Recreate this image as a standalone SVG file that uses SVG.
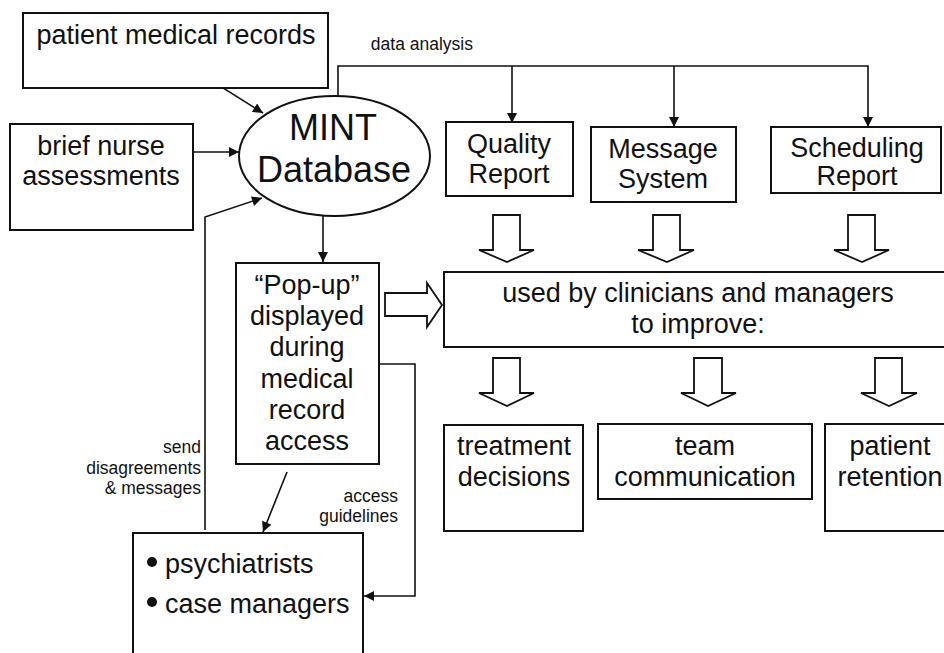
<svg xmlns="http://www.w3.org/2000/svg" width="944" height="653" viewBox="0 0 944 653">
<defs>
<marker id="ah" viewBox="0 0 10 10" refX="10" refY="5" markerWidth="11" markerHeight="10" markerUnits="userSpaceOnUse" orient="auto">
<path d="M0,0 L10,5 L0,10 z" fill="#111"/>
</marker>
<style>
.box{fill:#fff;stroke:#111;stroke-width:2}
.blk{fill:#fff;stroke:#111;stroke-width:1.8;stroke-linejoin:miter}
.con{fill:none;stroke:#111;stroke-width:1.6}
text{font-family:"Liberation Sans",Arial,Helvetica,sans-serif;fill:#111}
.t27{font-size:27px;text-anchor:middle}
.t36{font-size:36px;text-anchor:middle}
.sm{font-size:17.5px;text-anchor:end}
</style>
</defs>
<rect width="944" height="653" fill="#fff"/>

<g id="connectors">
<path class="con" d="M180,61 L263,113" marker-end="url(#ah)"/>
<path class="con" d="M188,152 H239" marker-end="url(#ah)"/>
<path class="con" d="M205,530 V217 L262,198" marker-end="url(#ah)"/>
<path class="con" d="M338,97 V66 H868 V127" marker-end="url(#ah)"/>
<path class="con" d="M512,66 V123" marker-end="url(#ah)"/>
<path class="con" d="M674,66 V127" marker-end="url(#ah)"/>
<path class="con" d="M323,216 V262" marker-end="url(#ah)"/>
<path class="con" d="M287,472 L263,532" marker-end="url(#ah)"/>
<path class="con" d="M379,364 H415 V596 H364" marker-end="url(#ah)"/>
<polygon class="blk" points="493,215 520,215 520,250 534,250 507,262 479,250 493,250"/>
<polygon class="blk" points="653,215 680,215 680,250 694,250 667,262 638,250 653,250"/>
<polygon class="blk" points="848,215 875,215 875,250 889,250 862,262 834,250 848,250"/>
<polygon class="blk" points="493,358 520,358 520,393 534,393 507,406 479,393 493,393"/>
<polygon class="blk" points="694,358 722,358 722,393 736,393 708,406 681,393 694,393"/>
<polygon class="blk" points="875,358 902,358 902,393 917,393 889,406 861,393 875,393"/>
<polygon class="blk" points="385,293 427,293 427,283 442,305 427,327 427,316 385,316"/>
<text class="sm" x="473" y="50">data analysis</text>
<text class="sm" x="201" y="453">send</text>
<text class="sm" x="201" y="474">disagreements</text>
<text class="sm" x="201" y="494">&amp; messages</text>
<text class="sm" x="398" y="502">access</text>
<text class="sm" x="398" y="522">guidelines</text>
</g>

<g id="patient-records">
<rect class="box" x="23" y="13" width="305" height="75"/>
<text class="t27" x="176" y="44">patient medical records</text>
</g>

<g id="nurse-assessments">
<rect class="box" x="10" y="124" width="183" height="106"/>
<text class="t27" x="101" y="155">brief nurse</text>
<text class="t27" x="101" y="185">assessments</text>
</g>

<g id="mint-database">
<ellipse cx="334.5" cy="156" rx="95.5" ry="60" fill="#fff" stroke="#111" stroke-width="2"/>
<text class="t36" x="333" y="140">MINT</text>
<text class="t36" x="334" y="182">Database</text>
</g>

<g id="quality-report">
<rect class="box" x="446" y="122" width="127" height="74"/>
<text class="t27" x="509" y="153">Quality</text>
<text class="t27" x="509" y="183">Report</text>
</g>

<g id="message-system">
<rect class="box" x="591" y="127" width="145" height="75"/>
<text class="t27" x="663" y="158">Message</text>
<text class="t27" x="663" y="188">System</text>
</g>

<g id="scheduling-report">
<rect class="box" x="771" y="127" width="170" height="66"/>
<text class="t27" x="857" y="157">Scheduling</text>
<text class="t27" x="857" y="185">Report</text>
</g>

<g id="popup">
<rect class="box" x="236" y="263" width="143" height="201"/>
<text class="t27" x="307" y="294">“Pop-up”</text>
<text class="t27" x="307" y="325">displayed</text>
<text class="t27" x="307" y="356">during</text>
<text class="t27" x="307" y="388">medical</text>
<text class="t27" x="307" y="419">record</text>
<text class="t27" x="307" y="450">access</text>
</g>

<g id="used-by">
<rect class="box" x="444" y="272" width="510" height="75"/>
<text class="t27" x="698" y="302">used by clinicians and managers</text>
<text class="t27" x="698" y="333">to improve:</text>
</g>

<g id="treatment-decisions">
<rect class="box" x="444" y="425" width="139" height="106"/>
<text class="t27" x="514" y="455">treatment</text>
<text class="t27" x="514" y="486">decisions</text>
</g>

<g id="team-communication">
<rect class="box" x="598" y="424" width="214" height="75"/>
<text class="t27" x="705" y="455">team</text>
<text class="t27" x="705" y="486">communication</text>
</g>

<g id="patient-retention">
<rect class="box" x="825" y="424" width="140" height="107"/>
<text class="t27" x="890" y="455">patient</text>
<text class="t27" x="890" y="486">retention</text>
</g>

<g id="clinicians">
<rect class="box" x="133" y="533" width="230" height="140"/>
<circle cx="152" cy="562" r="5" fill="#111"/>
<text style="font-size:27px" x="165" y="573">psychiatrists</text>
<circle cx="152" cy="602" r="5" fill="#111"/>
<text style="font-size:27px" x="165" y="613">case managers</text>
</g>
</svg>
